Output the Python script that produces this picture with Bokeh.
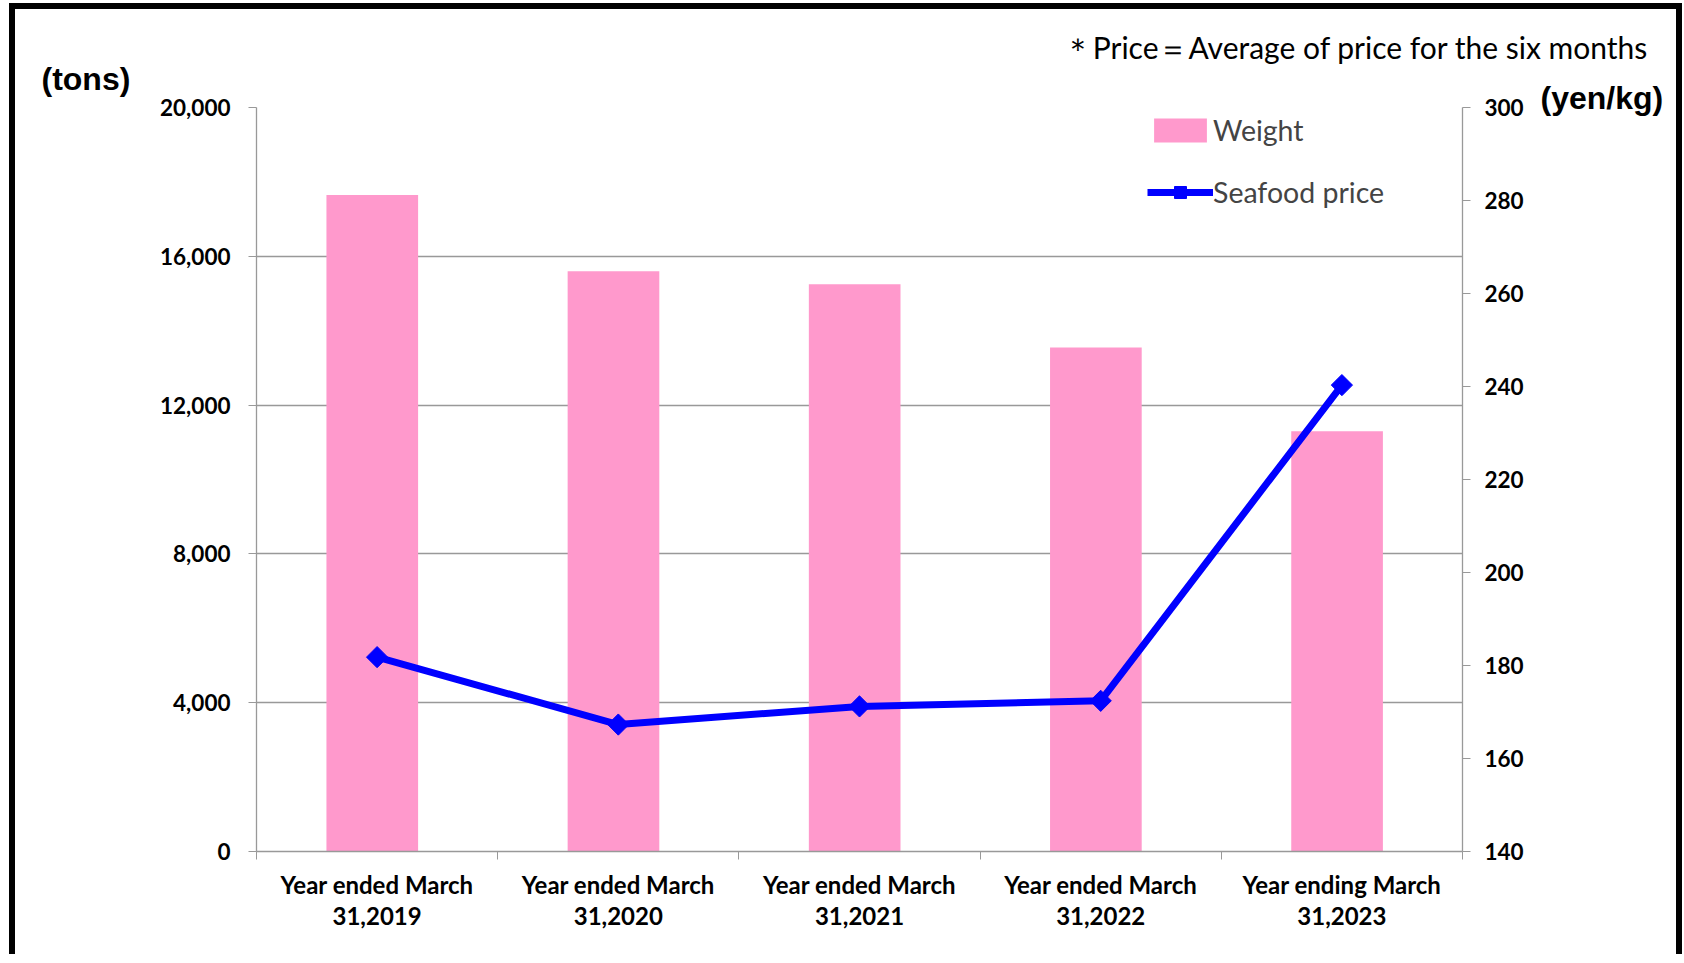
from bokeh.plotting import figure
from bokeh.models import (Range1d, LinearAxis, FixedTicker, NumeralTickFormatter,
                          Legend, LegendItem, Title)
from bokeh.transform import dodge
from bokeh.embed import file_html
from bokeh.resources import INLINE

categories = ["Year ended March\n31,2019", "Year ended March\n31,2020",
              "Year ended March\n31,2021", "Year ended March\n31,2022",
              "Year ending March\n31,2023"]
weight_tons = [17650, 15600, 15250, 13550, 11300]
price_yen_kg = [181.8, 167.3, 171.2, 172.4, 240.3]
left_ticks = [0, 4000, 8000, 12000, 16000, 20000]
right_ticks = [140, 160, 180, 200, 220, 240, 260, 280, 300]

xs = [i + 0.5 for i in range(len(categories))]
bounds = list(range(len(categories) + 1))

FONT = "Lato"
GRID = "#999999"

p = figure(frame_width=1206, frame_height=744,
           min_border_left=241, min_border_right=214,
           min_border_top=98, min_border_bottom=103,
           x_range=Range1d(0, len(categories)), y_range=Range1d(0, 20000),
           output_backend="svg", toolbar_location=None, tools="",
           x_axis_location=None, y_axis_location=None)
p.styles = {"border-top": "6px solid black", "border-left": "6px solid black",
            "border-right": "6px solid black", "margin-left": "9px",
            "margin-top": "3px"}
p.outline_line_color = None
p.background_fill_color = "white"
p.border_fill_color = "white"
p.xgrid.visible = False
p.ygrid.ticker = FixedTicker(ticks=left_ticks)
p.ygrid.grid_line_color = GRID
p.ygrid.grid_line_width = 1.3

p.extra_y_ranges = {"price": Range1d(140, 300)}

# bottom axis
xaxis = LinearAxis(ticker=FixedTicker(ticks=xs, minor_ticks=bounds))
xaxis.major_label_overrides = {x: c for x, c in zip(xs, categories)}
xaxis.major_tick_out = 0
xaxis.major_tick_in = 0
xaxis.minor_tick_out = 8
xaxis.minor_tick_in = 0
xaxis.minor_tick_line_color = GRID
xaxis.axis_line_color = GRID
xaxis.axis_line_width = 1.3
xaxis.major_label_standoff = 10
xaxis.major_label_text_font = FONT
xaxis.major_label_text_font_style = "bold"
xaxis.major_label_text_font_size = "24px"
xaxis.major_label_text_color = "black"
xaxis.major_label_text_line_height = 1.1
p.add_layout(xaxis, "below")

# left axis
yaxis = LinearAxis(ticker=FixedTicker(ticks=left_ticks),
                   formatter=NumeralTickFormatter(format="0,0"))
yaxis.axis_line_color = GRID
yaxis.axis_line_width = 1.3
yaxis.major_tick_line_color = GRID
yaxis.major_tick_out = 8
yaxis.major_tick_in = 0
yaxis.minor_tick_line_color = None
yaxis.major_label_standoff = 18
yaxis.major_label_text_font = FONT
yaxis.major_label_text_font_style = "bold"
yaxis.major_label_text_font_size = "22.5px"
yaxis.major_label_text_color = "black"
p.add_layout(yaxis, "left")

# right axis
raxis = LinearAxis(y_range_name="price", ticker=FixedTicker(ticks=right_ticks))
raxis.axis_line_color = GRID
raxis.axis_line_width = 1.3
raxis.major_tick_line_color = GRID
raxis.major_tick_out = 8
raxis.major_tick_in = 0
raxis.minor_tick_line_color = None
raxis.major_label_standoff = 14
raxis.major_label_text_font = FONT
raxis.major_label_text_font_style = "bold"
raxis.major_label_text_font_size = "22.5px"
raxis.major_label_text_color = "black"
p.add_layout(raxis, "right")

bars = p.vbar(x=dodge("x", -0.02), top="top",
              source={"x": xs, "top": weight_tons}, width=0.38,
              fill_color="#FF99CC", line_color=None)
line = p.line(x=xs, y=price_yen_kg, y_range_name="price", line_color="#0000FF",
              line_width=7)
pts = p.scatter(x=xs, y=price_yen_kg, y_range_name="price", marker="square",
                angle=0.785398, size=15, fill_color="#0000FF",
                line_color="#0000FF")

legend = Legend(items=[LegendItem(label="Weight", renderers=[bars]),
                       LegendItem(label="Seafood price", renderers=[line, pts])],
                location=(891, 642), orientation="vertical",
                label_text_font=FONT, label_text_font_size="28.5px",
                label_height=30, glyph_height=30, glyph_width=66,
                label_standoff=0, spacing=28, padding=5, margin=0,
                border_line_color=None, background_fill_alpha=0)
p.add_layout(legend, "center")

# texts above the plot area, stacked outward from the frame
p.add_layout(Title(text="(yen/kg)", align="left", offset=1284, standoff=-19,
                   vertical_align="middle", text_font="Liberation Sans",
                   text_font_style="bold", text_font_size="32px",
                   text_color="black"), "above")
p.add_layout(Title(text="(tons)", align="left", offset=-215, standoff=-18,
                   vertical_align="middle", text_font="Liberation Sans",
                   text_font_style="bold", text_font_size="32px",
                   text_color="black"), "above")
p.add_layout(Title(text="＊Price＝Average of price for the six months",
                   align="right", offset=-186, standoff=5,
                   vertical_align="middle", text_font=FONT,
                   text_font_style="normal", text_font_size="30px",
                   text_color="black"), "above")

open("out.html", "w").write(file_html(p, INLINE))
